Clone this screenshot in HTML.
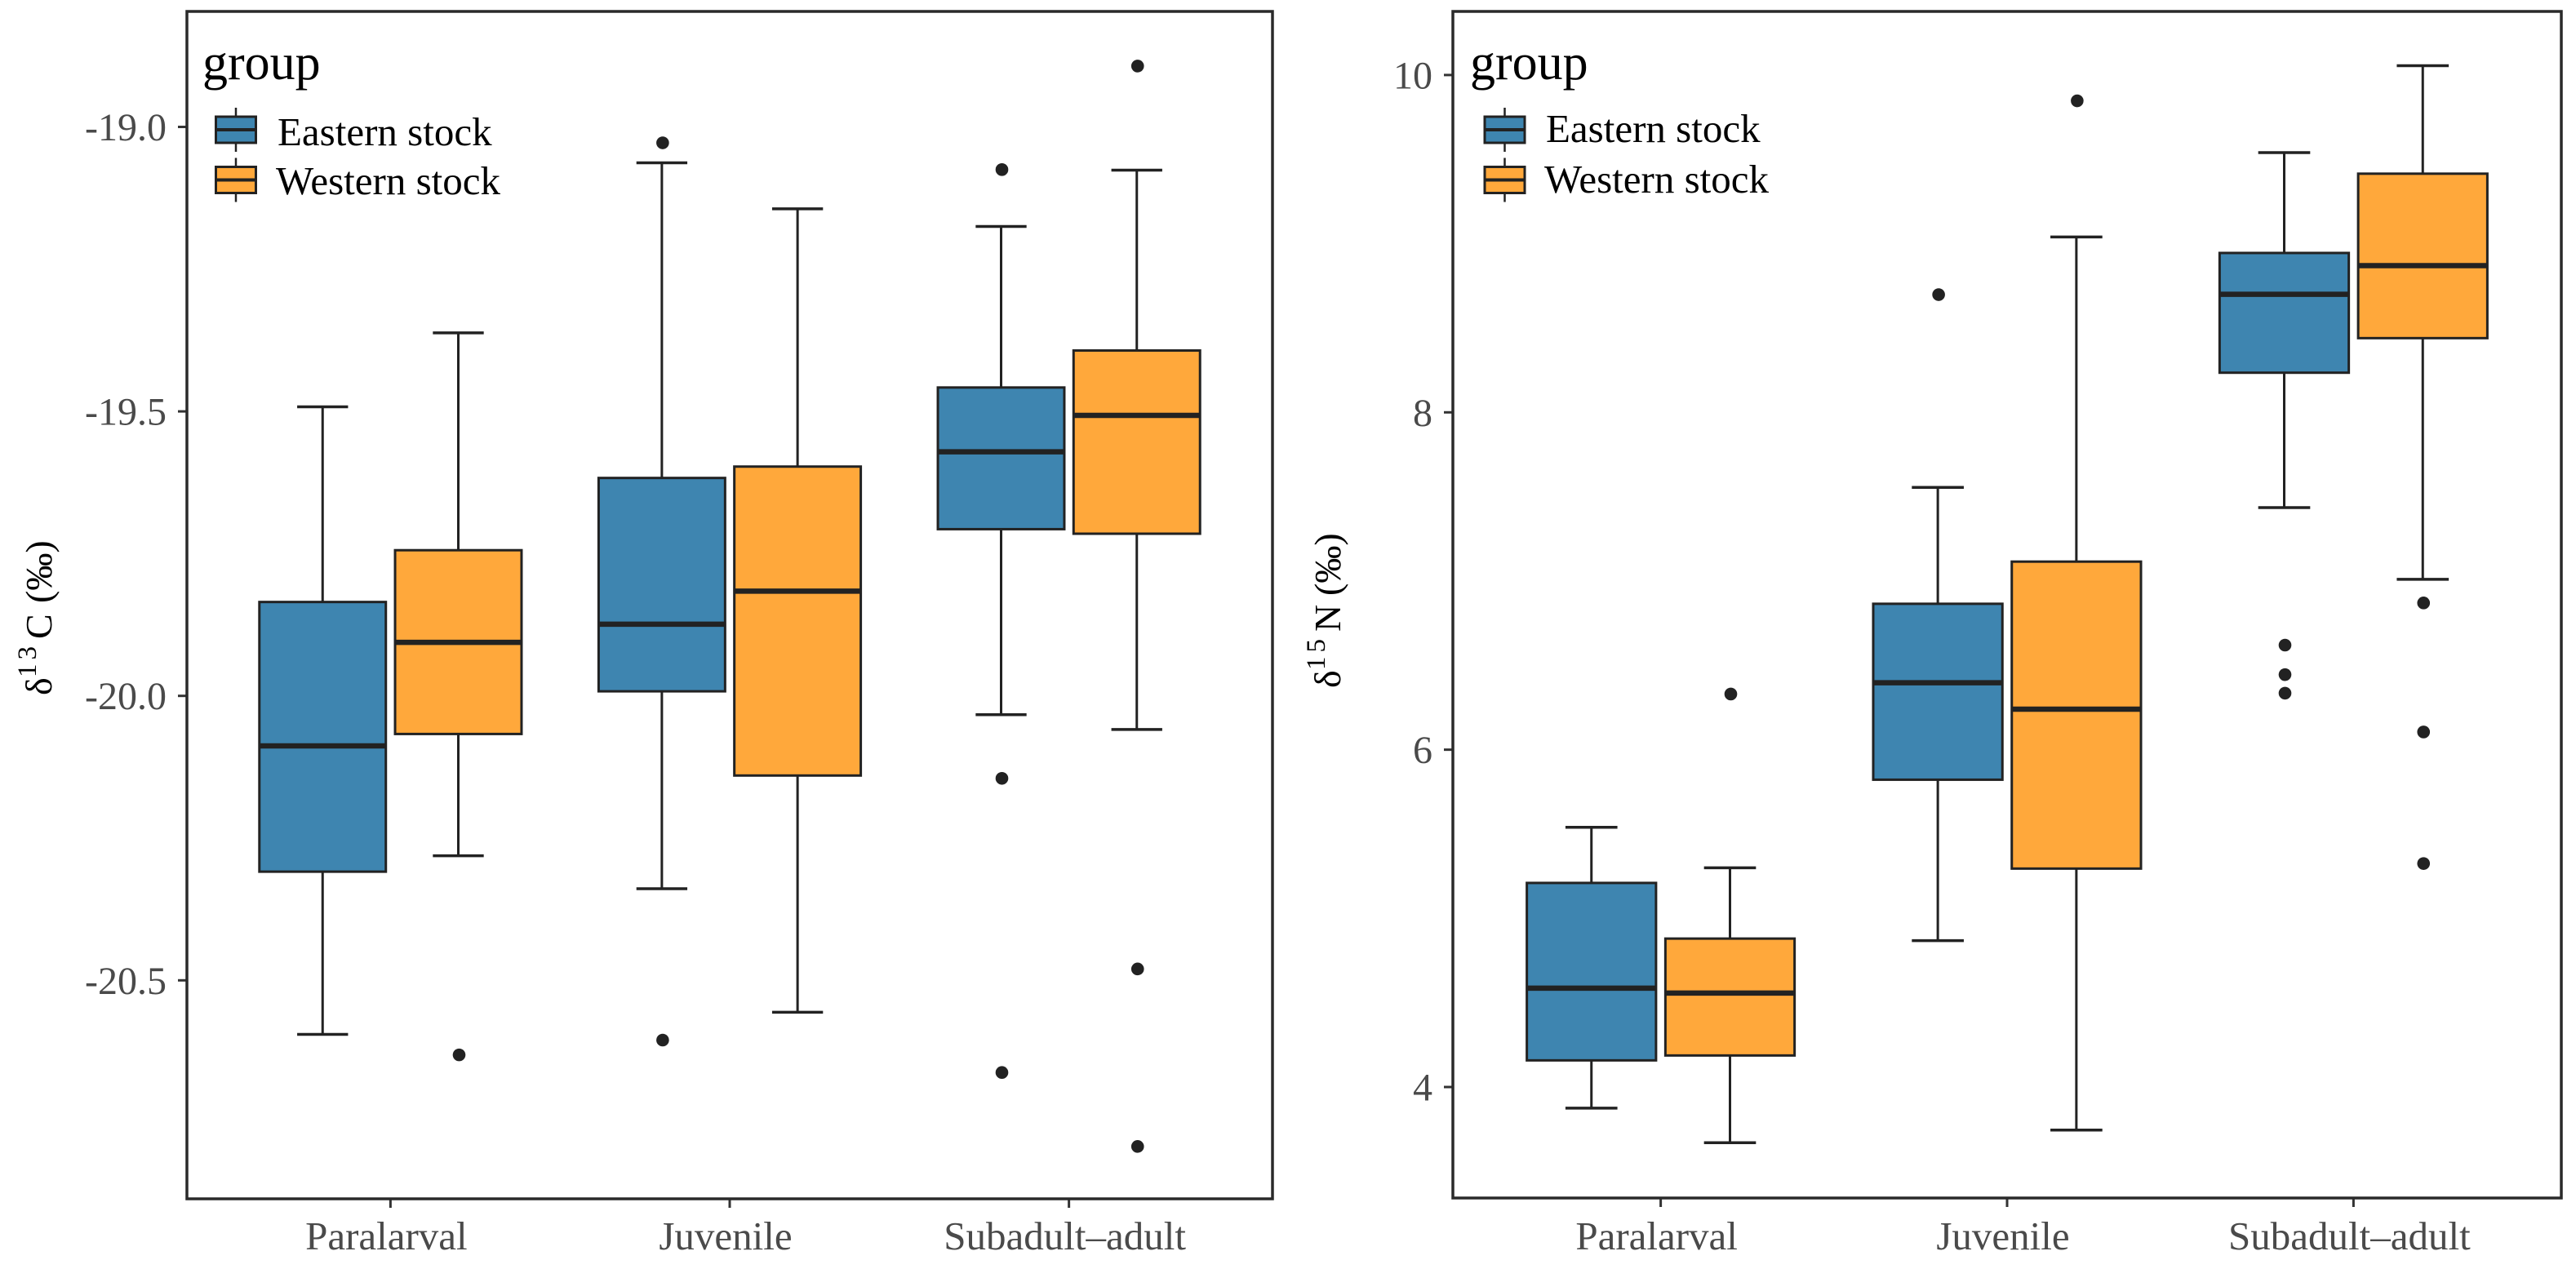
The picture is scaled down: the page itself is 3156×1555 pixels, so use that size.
<!DOCTYPE html>
<html lang="en">
<head>
<meta charset="utf-8">
<title>Stable isotope boxplots by life stage and stock</title>
<style>
  html, body { margin: 0; padding: 0; background: #fff; }
  body { width: 3156px; height: 1555px; overflow: hidden; }
  svg { display: block; font-family: "Liberation Serif", "Noto Serif CJK SC", serif; }
</style>
</head>
<body>
<svg id="figure" xmlns="http://www.w3.org/2000/svg" width="3156" height="1555" viewBox="0 0 3156 1555"></svg>
<script>
// ---- shared categories ----
const stages = ['Paralarval', 'Juvenile', 'Subadult–adult'];
const stocks = ['Eastern stock', 'Western stock'];
const legendTitle = 'group';

// ---- carbon panel values (δ13C, ‰), order: Paralarval, Juvenile, Subadult–adult ----
const carbonTicks = [-19, -19.5, -20, -20.5];
const carbonTickLabels = ['-19.0', '-19.5', '-20.0', '-20.5'];
const carbonEastLow = [-20.595, -20.339, -20.033];
const carbonEastQ1 = [-20.309, -19.992, -19.707];
const carbonEastMedian = [-20.088, -19.874, -19.571];
const carbonEastQ3 = [-19.835, -19.617, -19.458];
const carbonEastHigh = [-19.492, -19.063, -19.175];
const carbonEastOutliers = [[], [-19.028, -20.605], [-19.075, -20.145, -20.662]];
const carbonWestLow = [-20.281, -20.556, -20.059];
const carbonWestQ1 = [-20.067, -20.14, -19.715];
const carbonWestMedian = [-19.906, -19.816, -19.507];
const carbonWestQ3 = [-19.744, -19.597, -19.393];
const carbonWestHigh = [-19.362, -19.144, -19.076];
const carbonWestOutliers = [[-20.631], [], [-18.893, -20.48, -20.792]];

// ---- nitrogen panel values (δ15N, ‰) ----
const nitrogenTicks = [4, 6, 8, 10];
const nitrogenTickLabels = ['4', '6', '8', '10'];
const nitrogenEastLow = [3.875, 4.868, 7.435];
const nitrogenEastQ1 = [4.158, 5.822, 8.235];
const nitrogenEastMedian = [4.586, 6.397, 8.70];
const nitrogenEastQ3 = [5.21, 6.865, 8.945];
const nitrogenEastHigh = [5.54, 7.555, 9.54];
const nitrogenEastOutliers = [[], [8.698], [6.62, 6.445, 6.335]];
const nitrogenWestLow = [3.67, 3.745, 7.01];
const nitrogenWestQ1 = [4.187, 5.295, 8.44];
const nitrogenWestMedian = [4.557, 6.24, 8.87];
const nitrogenWestQ3 = [4.88, 7.115, 9.415];
const nitrogenWestHigh = [5.30, 9.04, 10.055];
const nitrogenWestOutliers = [[6.33], [9.847], [6.87, 6.105, 5.325]];

// ---- layout / style ----
const NS = 'http://www.w3.org/2000/svg';
const INK = '#222222';
const TICK_TEXT = '#4a4a4a';
const FILLS = ['#3e85b0', '#ffa83b'];
const figure = document.getElementById('figure');

function make(parent, tag, attrs, text) {
  const el = document.createElementNS(NS, tag);
  for (const k in attrs) el.setAttribute(k, attrs[k]);
  if (text !== undefined) el.textContent = text;
  parent.appendChild(el);
  return el;
}

function drawPanel(p) {
  const panel = make(figure, 'g', {});
  
  

  // axis functions
  const yScale = v => p.top + (p.domainTop - v) / (p.domainTop - p.domainBottom) * (p.bottom - p.top);
  const unit = (p.right - p.left) / 3.2;
  const xScale = i => p.left + (i + 0.6) * unit;

  // y ticks
  p.ticks.forEach((t, i) => {
    const tick = make(panel, 'line', { x1: p.left - 11, x2: p.left, y1: yScale(t), y2: yScale(t), stroke: '#333', 'stroke-width': 3 });
    
    
    const label = make(panel, 'text', { x: p.left - 25, y: yScale(t) + 16.5, 'text-anchor': 'end', 'font-size': 48, fill: TICK_TEXT }, p.tickLabels[i]);
    
    
  });

  // x ticks
  stages.forEach((s, i) => {
    const tick = make(panel, 'line', { x1: xScale(i), x2: xScale(i), y1: p.bottom, y2: p.bottom + 11, stroke: '#333', 'stroke-width': 3 });
    
    
    const label = make(panel, 'text', { x: xScale(i) - 5, y: 1531, 'text-anchor': 'middle', 'font-size': 49, fill: TICK_TEXT }, s);
    
    
  });

  // boxes
  p.series.forEach((sr, si) => {
    stages.forEach((s, i) => {
      const cx = xScale(i) + (si === 0 ? -0.2 : 0.2) * unit;
      const halfBox = 0.19 * unit - 1.5;
      const halfCap = 0.075 * unit;
      const box = make(panel, 'g', {});
      
      

      const whisker = make(box, 'line', { x1: cx, x2: cx, y1: yScale(sr.low[i]), y2: yScale(sr.high[i]), stroke: INK, 'stroke-width': 3 });
      
      

      const capLow = make(box, 'line', { x1: cx - halfCap, x2: cx + halfCap, y1: yScale(sr.low[i]), y2: yScale(sr.low[i]), stroke: INK, 'stroke-width': 3.5 });
      
      

      const capHigh = make(box, 'line', { x1: cx - halfCap, x2: cx + halfCap, y1: yScale(sr.high[i]), y2: yScale(sr.high[i]), stroke: INK, 'stroke-width': 3.5 });
      
      

      const rect = make(box, 'rect', { x: cx - halfBox, width: 2 * halfBox, y: yScale(sr.q3[i]), height: yScale(sr.q1[i]) - yScale(sr.q3[i]), fill: FILLS[si], stroke: INK, 'stroke-width': 3 });
      
      

      const median = make(box, 'line', { x1: cx - halfBox, x2: cx + halfBox, y1: yScale(sr.median[i]), y2: yScale(sr.median[i]), stroke: INK, 'stroke-width': 6.5 });
      
      

      sr.outliers[i].forEach(v => {
        const dot = make(box, 'circle', { cx: cx + 1, cy: yScale(v), r: 7.8, fill: INK });
        
        
      });
    });
  });

  // frame
  const frame = make(panel, 'rect', { x: p.left, y: p.top, width: p.right - p.left, height: p.bottom - p.top, fill: 'none', stroke: '#2a2a2a', 'stroke-width': 3.5 });
  
  

  // legend
  const legend = make(panel, 'g', {});
  
  
  const title = make(legend, 'text', { x: p.legendX, y: 97, 'font-size': 62, fill: '#000' }, legendTitle);
  
  
  stocks.forEach((name, i) => {
    const entry = make(legend, 'g', {});
    
    
    const boxTop = i === 0 ? 143 : 204.5;
    const cx = p.keyX + 24.5;
    const stem = make(entry, 'line', { x1: cx, x2: cx, y1: boxTop - 11, y2: boxTop + 43, stroke: INK, 'stroke-width': 2.5 });
    
    
    const key = make(entry, 'rect', { x: p.keyX, y: boxTop, width: 49, height: 32, fill: FILLS[i], stroke: INK, 'stroke-width': 3 });
    
    
    const mid = make(entry, 'line', { x1: p.keyX, x2: p.keyX + 49, y1: boxTop + 16, y2: boxTop + 16, stroke: INK, 'stroke-width': 4 });
    
    
    const label = make(entry, 'text', { x: p.legendTextX[i], y: p.legendTextY[i], 'font-size': 49, fill: '#000' }, name);
    
    
  });

  // y-axis title
  const yTitle = make(panel, 'text', { transform: 'translate(' + p.titleX + ',' + p.titleY + ') rotate(-90)', 'font-size': 46, fill: '#000' });
  
  
  make(yTitle, 'tspan', { x: 0, y: 0 }, 'δ');
  make(yTitle, 'tspan', { x: 22, y: -19, 'font-size': 33, 'letter-spacing': 5 }, p.titleDigits);
  make(yTitle, 'tspan', { x: 69, y: 0 }, p.titleElement);
  make(yTitle, 'tspan', { x: 113, y: 0 }, '(‰)');
}

drawPanel({
  id: 'carbon', left: 229, right: 1559, top: 14, bottom: 1469,
  domainTop: -18.797, domainBottom: -20.884,
  ticks: carbonTicks, tickLabels: carbonTickLabels,
  legendX: 248, keyX: 264.5, legendTextX: [340, 338], legendTextY: [178, 238],
  titleX: 63, titleY: 852, titleDigits: '13', titleElement: 'C',
  series: [
    { low: carbonEastLow, q1: carbonEastQ1, median: carbonEastMedian, q3: carbonEastQ3, high: carbonEastHigh, outliers: carbonEastOutliers },
    { low: carbonWestLow, q1: carbonWestQ1, median: carbonWestMedian, q3: carbonWestQ3, high: carbonWestHigh, outliers: carbonWestOutliers }
  ]
});

drawPanel({
  id: 'nitrogen', left: 1780, right: 3138, top: 14, bottom: 1468,
  domainTop: 10.377, domainBottom: 3.342,
  ticks: nitrogenTicks, tickLabels: nitrogenTickLabels,
  legendX: 1801, keyX: 1819, legendTextX: [1894, 1892], legendTextY: [174, 236],
  titleX: 1642, titleY: 843, titleDigits: '15', titleElement: 'N',
  series: [
    { low: nitrogenEastLow, q1: nitrogenEastQ1, median: nitrogenEastMedian, q3: nitrogenEastQ3, high: nitrogenEastHigh, outliers: nitrogenEastOutliers },
    { low: nitrogenWestLow, q1: nitrogenWestQ1, median: nitrogenWestMedian, q3: nitrogenWestQ3, high: nitrogenWestHigh, outliers: nitrogenWestOutliers }
  ]
});
</script>
</body>
</html>
